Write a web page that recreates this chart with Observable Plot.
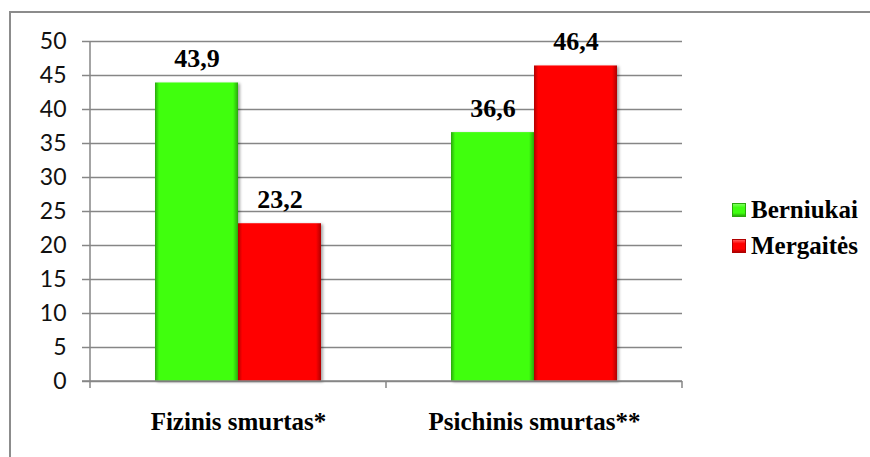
<!DOCTYPE html>
<html>
<head>
<meta charset="utf-8">
<script src="https://cdn.jsdelivr.net/npm/d3@7"></script>
<script src="https://cdn.jsdelivr.net/npm/@observablehq/plot@0.6"></script>
<style>
  html, body { margin: 0; padding: 0; width: 870px; height: 457px; overflow: hidden; background: #fff; }
  #frame { position: absolute; left: 9px; top: 11px; width: 1000px; height: 1000px;
           border-left: 2px solid #8c8c8c; border-top: 2px solid #8c8c8c; box-sizing: border-box; }
  #chart { position: absolute; left: 0; top: 0; }
  #legend { position: absolute; left: 732px; top: 192px; font-family: "Liberation Serif", "Tinos", "DejaVu Serif", serif;
            font-weight: bold; font-size: 25px; color: #000; }
  .item { display: flex; align-items: center; height: 36px; }
  .sw { width: 14px; height: 14px; margin-right: 5px; box-sizing: border-box; }
  .serif { font-family: "Liberation Serif", "Tinos", "DejaVu Serif", serif; }
</style>
</head>
<body>
<div id="frame"></div>
<div id="chart"></div>
<div id="legend"></div>
<script>
const categories = ["Fizinis smurtas*", "Psichinis smurtas**"];
const series = ["Berniukai", "Mergaitės"];
const berniukai = [43.9, 36.6];
const mergaites = [23.2, 46.4];
const yTicks = [0, 5, 10, 15, 20, 25, 30, 35, 40, 45, 50];
const seriesColors = ["#3fff10", "#ff0000"];
const seriesEdge = ["#2aa80c", "#b00000"];
const seriesLight = ["#7cff5c", "#ff5a5a"];

const data = [];
categories.forEach((c, i) => {
  data.push({category: c, series: series[0], value: berniukai[i]});
  data.push({category: c, series: series[1], value: mergaites[i]});
});
const fmt = v => v.toFixed(1).replace(".", ",");
const serifFont = "'Liberation Serif', 'Tinos', 'DejaVu Serif', serif";

function defs() {
  const ns = "http://www.w3.org/2000/svg";
  const d = document.createElementNS(ns, "defs");
  series.forEach((s, i) => {
    const g = document.createElementNS(ns, "linearGradient");
    g.setAttribute("id", "grad" + i);
    g.setAttribute("x1", "0"); g.setAttribute("x2", "1"); g.setAttribute("y1", "0"); g.setAttribute("y2", "0");
    [[0, seriesEdge[i]], [0.05, seriesColors[i]], [0.94, seriesColors[i]], [1, seriesEdge[i]]].forEach(([o, c]) => {
      const st = document.createElementNS(ns, "stop");
      st.setAttribute("offset", o); st.setAttribute("stop-color", c);
      g.appendChild(st);
    });
    d.appendChild(g);
  });
  const f = document.createElementNS(ns, "filter");
  f.setAttribute("id", "shadow");
  f.setAttribute("x", "-10%"); f.setAttribute("y", "-10%"); f.setAttribute("width", "130%"); f.setAttribute("height", "130%");
  const ds = document.createElementNS(ns, "feDropShadow");
  ds.setAttribute("dx", "2"); ds.setAttribute("dy", "1"); ds.setAttribute("stdDeviation", "1.5");
  ds.setAttribute("flood-color", "#000"); ds.setAttribute("flood-opacity", "0.35");
  f.appendChild(ds);
  d.appendChild(f);
  return d;
}

const plot = Plot.plot({
  width: 700,
  height: 457,
  marginLeft: 90,
  marginRight: 18,
  marginTop: 41,
  marginBottom: 76,
  style: {background: "transparent", overflow: "visible"},
  fx: {domain: categories, padding: 0, label: null},
  x: {domain: series, paddingInner: 0, paddingOuter: 0.762, axis: null},
  y: {domain: [0, 50], label: null},
  color: {domain: series, range: ["url(#grad0)", "url(#grad1)"]},
  marks: [
    defs,
    Plot.gridY(yTicks, {stroke: "#868686", strokeOpacity: 1, strokeWidth: 1.5}),
    Plot.axisY(yTicks, {anchor: "left", tickSize: 8, tickPadding: 16, fontSize: 23, fontFamily: "Lato, sans-serif",
      stroke: "#868686", strokeWidth: 1.5, color: "#111", label: null}),
    Plot.axisFx({anchor: "bottom", tickSize: 0, tickPadding: 31, fontSize: 25, fontWeight: "bold",
      className: "serif", color: "#000", label: null}),
    Plot.barY(data, {fx: "category", x: "series", y: "value", fill: "series",
      render: (i, s, v, d, c, next) => { const g = next(i, s, v, d, c); g.setAttribute("filter", "url(#shadow)"); return g; }}),
    Plot.text(data, {fx: "category", x: "series", y: "value", text: d => fmt(d.value), dy: -24,
      fontSize: 26, fontWeight: "bold", className: "serif", fill: "#000"})
  ]
});

// axis line and category boundary ticks from the scales
const fx = plot.scale("fx"), y = plot.scale("y");
const svg = d3.select(plot);
svg.selectAll("g.serif, g.serif text").style("font-family", serifFont);
const g = svg.append("g").attr("stroke", "#868686").attr("stroke-width", 1.5);
const x0 = fx.apply(categories[0]);
g.append("line").attr("x1", x0).attr("x2", x0).attr("y1", y.apply(50)).attr("y2", y.apply(0) + 7);
g.append("line").attr("x1", x0 - 8).attr("x2", fx.apply(categories[1]) + fx.bandwidth).attr("y1", y.apply(0)).attr("y2", y.apply(0));
categories.forEach(c => {
  const xr = fx.apply(c) + fx.bandwidth;
  g.append("line").attr("x1", xr).attr("x2", xr).attr("y1", y.apply(0)).attr("y2", y.apply(0) + 7);
});
document.getElementById("chart").appendChild(plot);

const legend = document.getElementById("legend");
series.forEach((s, i) => {
  const it = document.createElement("div");
  it.className = "item";
  const sw = document.createElement("div");
  sw.className = "sw";
  sw.style.background = `linear-gradient(to bottom, ${seriesLight[i]} 0%, ${seriesColors[i]} 30%, ${seriesColors[i]} 75%, ${seriesEdge[i]} 100%)`;
  sw.style.border = `1px solid ${seriesEdge[i]}`;
  it.appendChild(sw);
  const t = document.createElement("span");
  t.textContent = s;
  it.appendChild(t);
  legend.appendChild(it);
});
</script>
</body>
</html>
